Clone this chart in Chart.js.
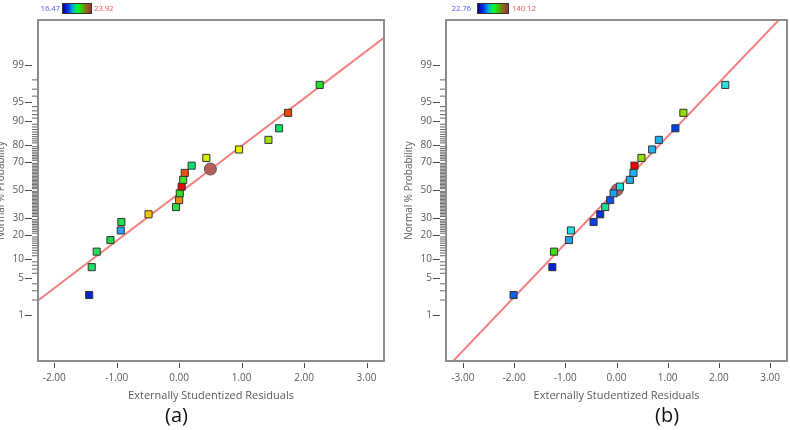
<!DOCTYPE html>
<html lang="en">
<head>
<meta charset="UTF-8">
<title>Normal Plot of Residuals</title>
<script src="https://cdn.jsdelivr.net/npm/chart.js"></script>
<style>
  body { margin: 0; width: 790px; height: 430px; overflow: hidden; position: relative; background: #fff; font-family: 'Open Sans', sans-serif; }
  .panel { position: absolute; top: 0; }
  .num { position: absolute; top: 2px; font-size: 8px; line-height: 12px; letter-spacing: -0.2px; }
  .lo { color: #5a5af5; }
  .hi { color: #f25555; }
  .bar { position: absolute; top: 3px; height: 11px; border: 1px solid #333; box-sizing: border-box;
         background: linear-gradient(to right, #00009a, #0030f0 18%, #00b0d0 35%, #00ff30 52%, #40c000 68%, #906020 85%, #a83030); }
  .tag { position: absolute; top: 401px; font-size: 20px; color: #111; }
</style>
</head>
<body>
<div class="panel" style="left:-13px"><canvas id="chartA" width="405" height="430"></canvas></div>
<div class="panel" style="left:395px"><canvas id="chartB" width="400" height="430"></canvas></div>

<span class="num lo" style="right:730px">16.47</span>
<div class="bar" style="left:62px;width:30px"></div>
<span class="num hi" style="left:94px">23.92</span>

<span class="num lo" style="right:319px">22.76</span>
<div class="bar" style="left:477px;width:32px"></div>
<span class="num hi" style="left:512px">140.12</span>

<div class="tag" style="left:165px">(a)</div>
<div class="tag" style="left:655px">(b)</div>

<script>
// probability axis ticks (%)
const probTicks = [1, 5, 10, 20, 30, 50, 70, 80, 90, 95, 99];
const probLabels = ['1', '5', '10', '20', '30', '50', '70', '80', '90', '95', '99'];

// panel (a)
const xTicksA = [-2, -1, 0, 1, 2, 3];
const residA = [-1.44, -1.40, -1.32, -1.10, -0.935, -0.925, -0.49, -0.05, 0.00, 0.01, 0.04, 0.065, 0.09, 0.20, 0.435, 0.96, 1.43, 1.60, 1.745, 2.25];
const probA = [2.5, 7.5, 12.5, 17.5, 22.5, 27.5, 32.5, 37.5, 42.5, 47.5, 52.5, 57.5, 62.5, 67.5, 72.5, 77.5, 82.5, 87.5, 92.5, 97.5];
const colorsA = ['#0a1fd8', '#22e06a', '#22e060', '#22d84a', '#2a9ff0', '#20e050', '#f0c800', '#30e040', '#f08a10', '#30e020',
                 '#f00000', '#40e030', '#f05010', '#10e070', '#d8f000', '#e8f000', '#a8e000', '#10e060', '#f04a00', '#20e030'];
const markA = { x: 0.5, y: 65.2 };
const lineAX = [-2.5, 3.5];
const lineAP = [1.15, 99.88];

// panel (b)
const xTicksB = [-3, -2, -1, 0, 1, 2, 3];
const residB = [-2.01, -1.253, -1.22, -0.928, -0.89, -0.448, -0.318, -0.22, -0.123, -0.058, 0.066, 0.261, 0.331, 0.351, 0.487, 0.696, 0.826, 1.15, 1.306, 2.125];
const probB = [2.5, 7.5, 12.5, 17.5, 22.5, 27.5, 32.5, 37.5, 42.5, 47.5, 52.5, 57.5, 62.5, 67.5, 72.5, 77.5, 82.5, 87.5, 92.5, 97.5];
const colorsB = ['#1060f0', '#0020e0', '#40e010', '#20a0f0', '#20e0e0', '#1040e0', '#0030e0', '#10e090', '#1050f0', '#20a0f0',
                 '#20e0e0', '#20b0f0', '#20b0f0', '#f00000', '#90e000', '#20b0f0', '#20b0f0', '#0040e0', '#90e000', '#20e0e0'];
const markB = { x: 0.01, y: 50 };
const lineBX = [-3.6, 3.6];
const lineBP = [0.0159, 99.9841];

// inverse normal CDF (Acklam)
function probit(p) {
    const a = [-3.969683028665376e+01, 2.209460984245205e+02, -2.759285104469687e+02, 1.383577518672690e+02, -3.066479806614716e+01, 2.506628277459239e+00];
    const b = [-5.447609879822406e+01, 1.615858368580409e+02, -1.556989798598866e+02, 6.680131188771972e+01, -1.328068155288572e+01];
    const c = [-7.784894002430293e-03, -3.223964580411365e-01, -2.400758277161838e+00, -2.549732539343734e+00, 4.374664141464968e+00, 2.938163982698783e+00];
    const d = [7.784695709041462e-03, 3.224671290700398e-01, 2.445134137142996e+00, 3.754408661907416e+00];
    const pl = 0.02425;
    let q, r;
    if (p < pl) {
        q = Math.sqrt(-2 * Math.log(p));
        return (((((c[0]*q+c[1])*q+c[2])*q+c[3])*q+c[4])*q+c[5]) / ((((d[0]*q+d[1])*q+d[2])*q+d[3])*q+1);
    }
    if (p > 1 - pl) {
        q = Math.sqrt(-2 * Math.log(1 - p));
        return -(((((c[0]*q+c[1])*q+c[2])*q+c[3])*q+c[4])*q+c[5]) / ((((d[0]*q+d[1])*q+d[2])*q+d[3])*q+1);
    }
    q = p - 0.5; r = q * q;
    return (((((a[0]*r+a[1])*r+a[2])*r+a[3])*r+a[4])*r+a[5])*q / (((((b[0]*r+b[1])*r+b[2])*r+b[3])*r+b[4])*r+1);
}

// normal probability scale: values given in %, laid out linearly in z
class ProbitScale extends Chart.LinearScale {
    parse(raw) {
        if (raw === null || raw === undefined || isNaN(+raw)) return null;
        return probit(+raw / 100);
    }
}
ProbitScale.id = 'probit';
ProbitScale.defaults = {};
Chart.register(ProbitScale);

const axisGray = '#5a5a5a';

// frame + tick marks
const framePlugin = {
    id: 'frame',
    afterDraw(chart) {
        const { ctx, chartArea: ca, scales: { x, y } } = chart;
        ctx.save();
        ctx.strokeStyle = '#4a4a4a';
        ctx.lineWidth = 1;
        ctx.beginPath();
        probTicks.forEach(p => {
            const py = Math.round(y.getPixelForValue(y.parse(p))) + 0.5;
            ctx.moveTo(ca.left - 13, py); ctx.lineTo(ca.left - 6, py);
        });
        x.ticks.forEach(t => {
            const px = Math.round(x.getPixelForValue(t.value)) + 0.5;
            ctx.moveTo(px, ca.bottom + 2); ctx.lineTo(px, ca.bottom + 7);
        });
        ctx.stroke();
        ctx.strokeStyle = '#666';
        ctx.beginPath();
        for (let p = 2; p < 99; p++) {
            if (probTicks.includes(p)) continue;
            const py = y.getPixelForValue(y.parse(p));
            ctx.moveTo(ca.left - 6, py); ctx.lineTo(ca.left - 1, py);
        }
        ctx.stroke();
        ctx.strokeStyle = '#8c8c8c';
        ctx.lineWidth = 2;
        ctx.strokeRect(ca.left, ca.top, ca.right - ca.left, ca.bottom - ca.top);
        ctx.restore();
    }
};

function makePanel(id, resid, prob, colors, mark, lineX, lineP, xTicks, xMin, xMax) {
    new Chart(document.getElementById(id), {
        type: 'scatter',
        data: {
            datasets: [
                {
                    data: resid.map((r, i) => ({ x: r, y: prob[i] })),
                    pointStyle: 'rect', pointRadius: 5,
                    backgroundColor: colors, borderColor: '#333', borderWidth: 1
                },
                {
                    data: [mark],
                    pointStyle: 'circle', pointRadius: 6,
                    backgroundColor: '#b95c5c', borderColor: '#555', borderWidth: 1
                },
                {
                    data: lineX.map((v, i) => ({ x: v, y: lineP[i] })),
                    showLine: true, pointRadius: 0,
                    borderColor: '#f47f7f', borderWidth: 2
                }
            ]
        },
        options: {
            responsive: false,
            animation: false,
            layout: { padding: { top: 20, right: 8, bottom: 28, left: 0 } },
            plugins: { legend: { display: false }, tooltip: { enabled: false } },
            scales: {
                x: {
                    type: 'linear', min: xMin, max: xMax,
                    afterBuildTicks: s => { s.ticks = xTicks.map(v => ({ value: v })); },
                    afterFit: s => { s.height = 41; },
                    grid: { display: false, drawTicks: false },
                    border: { display: false },
                    ticks: { autoSkip: false, maxRotation: 0, padding: 11, color: axisGray,
                             font: { family: 'Open Sans', size: 10 }, callback: v => v.toFixed(2) },
                    title: { display: true, text: 'Externally Studentized Residuals', color: axisGray,
                             font: { family: 'Open Sans', size: 11 }, padding: 0 }
                },
                y: {
                    type: 'probit', min: 0.071, max: 99.924, bounds: 'data',
                    afterBuildTicks: s => { s.ticks = probTicks.map(p => ({ value: s.parse(p) })); },
                    afterFit: s => { s.width = 51; },
                    grid: { display: false, drawTicks: false },
                    border: { display: false },
                    ticks: { autoSkip: false, padding: 14, color: axisGray,
                             font: { family: 'Open Sans', size: 10 }, callback: (v, i) => probLabels[i] },
                    title: { display: true, text: 'Normal % Probability', color: axisGray,
                             font: { family: 'Open Sans', size: 10 }, padding: { top: 8, bottom: 0 } }
                }
            }
        },
        plugins: [framePlugin]
    });
}

makePanel('chartA', residA, probA, colorsA, markA, lineAX, lineAP, xTicksA, -2.26, 3.28);
makePanel('chartB', residB, probB, colorsB, markB, lineBX, lineBP, xTicksB, -3.33, 3.33);
</script>
</body>
</html>
